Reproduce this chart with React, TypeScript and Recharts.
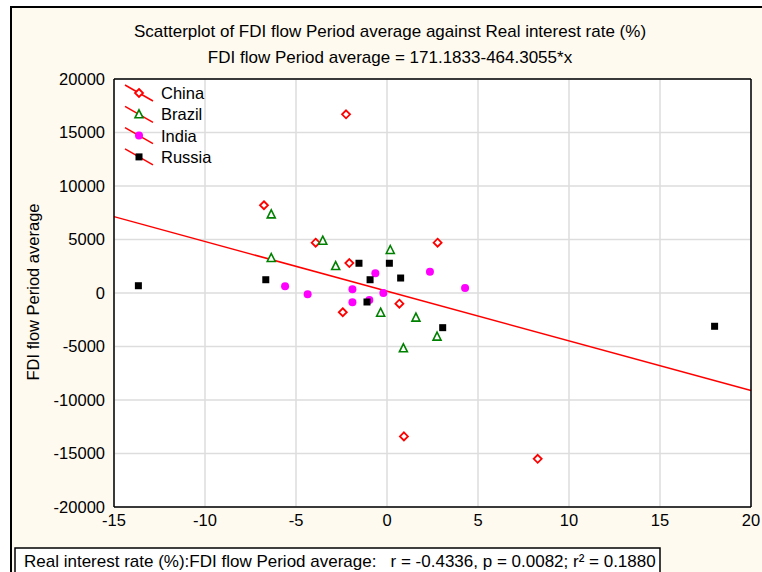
import React from "react";
import {
  ScatterChart,
  Scatter,
  XAxis,
  YAxis,
  CartesianGrid,
  ReferenceLine,
  Legend,
} from "recharts";

const chinaRate = [-2.25, -6.76, -3.92, -2.07, 2.78, 0.68, -2.43, 0.93, 8.28];
const chinaFdi = [16700, 8200, 4700, 2800, 4700, -1000, -1800, -13400, -15500];

const brazilRate = [-6.36, -6.36, -3.53, -2.82, 0.18, -0.35, 1.59, 2.75, 0.9];
const brazilFdi = [7350, 3270, 4890, 2520, 4020, -1840, -2300, -4080, -5170];

const indiaRate = [-5.6, -4.36, -1.9, -1.9, -0.97, -0.64, -0.2, 2.36, 4.29];
const indiaFdi = [620, -120, 350, -870, -650, 1840, 0, 1990, 470];

const russiaRate = [-13.66, -6.66, -1.54, 0.13, -0.93, 0.75, -1.1, 3.06, 18.0];
const russiaFdi = [680, 1240, 2780, 2780, 1240, 1400, -840, -3240, -3110];

const xTicks = [-15, -10, -5, 0, 5, 10, 15, 20];
const yTicks = [-20000, -15000, -10000, -5000, 0, 5000, 10000, 15000, 20000];
const xMinor = Array.from({ length: 36 }, (_, i) => -15 + i);
const yMinor = Array.from({ length: 41 }, (_, i) => -20000 + i * 1000);

// fitted line from the subtitle
const intercept = 171.1833;
const slope = -464.3055;

const toPoints = (xs: number[], ys: number[]) => xs.map((x, i) => ({ x, y: ys[i] }));

const FONT = "'Liberation Sans', Arial, sans-serif";
const FS = 16.5;

const Diamond = ({ cx, cy }: any) => (
  <path
    d={`M${cx},${cy - 4} L${cx + 4},${cy} L${cx},${cy + 4} L${cx - 4},${cy} Z`}
    fill="#fff"
    stroke="#ff0000"
    strokeWidth={1.8}
  />
);
const Triangle = ({ cx, cy }: any) => (
  <path
    d={`M${cx},${cy - 4.5} L${cx + 4},${cy + 3.5} L${cx - 4},${cy + 3.5} Z`}
    fill="#fff"
    stroke="#008000"
    strokeWidth={1.6}
  />
);
const Dot = ({ cx, cy }: any) => <circle cx={cx} cy={cy} r={4} fill="#ff00ff" />;
const Square = ({ cx, cy }: any) => (
  <rect x={cx - 3.5} y={cy - 3.5} width={7} height={7} fill="#000" />
);

const series = [
  { name: "China", data: toPoints(chinaRate, chinaFdi), Shape: Diamond },
  { name: "Brazil", data: toPoints(brazilRate, brazilFdi), Shape: Triangle },
  { name: "India", data: toPoints(indiaRate, indiaFdi), Shape: Dot },
  { name: "Russia", data: toPoints(russiaRate, russiaFdi), Shape: Square },
];

const renderLegend = () => (
  <svg width={110} height={90} style={{ display: "block" }}>
    {series.map((s, i) => {
      const cx = 19;
      const cy = 10 + i * 21.3;
      return (
        <g key={s.name}>
          <line x1={cx - 14} y1={cy - 8} x2={cx + 14} y2={cy + 8} stroke="#ff0000" strokeWidth={1.5} />
          <s.Shape cx={cx} cy={cy} />
          <text x={41} y={cy + 6} fontSize={FS} fontFamily={FONT} fill="#000">
            {s.name}
          </text>
        </g>
      );
    })}
  </svg>
);

const tickStyle = { fontSize: FS, fill: "#000", fontFamily: FONT };

export default function App() {
  return (
    <div style={{ position: "absolute", left: 0, top: 0, width: 762, height: 572, overflow: "hidden", background: "#fff" }}>
      <div
        style={{
          position: "absolute",
          left: 10,
          top: 6,
          width: 760,
          height: 580,
          background: "#fffaf0",
          borderLeft: "2px solid #000",
          borderTop: "2px solid #000",
        }}
      />
      <div style={{ position: "absolute", left: 0, top: 0 }}>
        <ScatterChart width={762} height={572} margin={{ top: 79, right: 11, bottom: 35, left: 54 }}>
          <CartesianGrid
            xAxisId={0}
            yAxisId={0}
            stroke="#dddddd"
            strokeWidth={1.5}
            fill="#ffffff"
            fillOpacity={1}
          />
          <XAxis
            xAxisId={0}
            type="number"
            dataKey="x"
            domain={[-15, 20]}
            ticks={xTicks}
            allowDataOverflow
            tickLine={false}
            tickSize={4}
            tickMargin={3}
            height={30}
            axisLine={{ stroke: "#000", strokeWidth: 1.5 }}
            tick={tickStyle}
          />
          <YAxis
            yAxisId={0}
            type="number"
            dataKey="y"
            domain={[-20000, 20000]}
            ticks={yTicks}
            allowDataOverflow
            tickLine={false}
            tickSize={4}
            tickMargin={5}
            width={60}
            axisLine={{ stroke: "#000", strokeWidth: 1.5 }}
            tick={tickStyle}
          />
          {/* frame with small inward ticks */}
          <XAxis xAxisId="bm" type="number" domain={[-15, 20]} ticks={xMinor} allowDataOverflow mirror tick={false} tickSize={3} axisLine={false} tickLine={{ stroke: "#000" }} />
          <XAxis xAxisId="tm" orientation="top" type="number" domain={[-15, 20]} ticks={xMinor} allowDataOverflow mirror tick={false} tickSize={3} axisLine={{ stroke: "#000", strokeWidth: 1.5 }} tickLine={{ stroke: "#000" }} />
          <YAxis yAxisId="lm" type="number" domain={[-20000, 20000]} ticks={yMinor} allowDataOverflow mirror tick={false} tickSize={3} axisLine={false} tickLine={{ stroke: "#000" }} />
          <YAxis yAxisId="rm" orientation="right" type="number" domain={[-20000, 20000]} ticks={yMinor} allowDataOverflow mirror tick={false} tickSize={3} axisLine={{ stroke: "#000", strokeWidth: 1.5 }} tickLine={{ stroke: "#000" }} />
          <ReferenceLine
            xAxisId={0}
            yAxisId={0}
            segment={[
              { x: -15, y: intercept + slope * -15 },
              { x: 20, y: intercept + slope * 20 },
            ]}
            stroke="#ff0000"
            strokeWidth={1.5}
          />
          {series.map((s) => (
            <Scatter
              key={s.name}
              name={s.name}
              xAxisId={0}
              yAxisId={0}
              data={s.data}
              shape={(p: any) => <s.Shape cx={p.cx} cy={p.cy} />}
              isAnimationActive={false}
            />
          ))}
          <Legend
            layout="vertical"
            align="center"
            verticalAlign="middle"
            content={renderLegend}
            wrapperStyle={{ left: 120, top: 83, width: 110, height: 90 }}
          />
        </ScatterChart>
      </div>
      <svg width={762} height={572} style={{ position: "absolute", left: 0, top: 0, pointerEvents: "none" }}>
        <text x={390} y={37} textAnchor="middle" fontSize={17} fontFamily={FONT} fill="#000">
          Scatterplot of FDI flow Period average against Real interest rate (%)
        </text>
        <text x={390} y={63} textAnchor="middle" fontSize={17} fontFamily={FONT} fill="#000">
          FDI flow Period average = 171.1833-464.3055*x
        </text>
        <text
          x={0}
          y={0}
          transform="translate(39,292) rotate(-90)"
          textAnchor="middle"
          fontSize={FS}
          fontFamily={FONT}
          fill="#000"
        >
          FDI flow Period average
        </text>
        <rect x={15} y={548} width={645} height={30} fill="#fff" stroke="#000" strokeWidth={1.5} />
        <text x={24} y={567} fontSize={17} fontFamily={FONT} fill="#000" style={{ whiteSpace: "pre" }}>
          Real interest rate (%):FDI flow Period average:   r = -0.4336, p = 0.0082; r² = 0.1880
        </text>
      </svg>
    </div>
  );
}
